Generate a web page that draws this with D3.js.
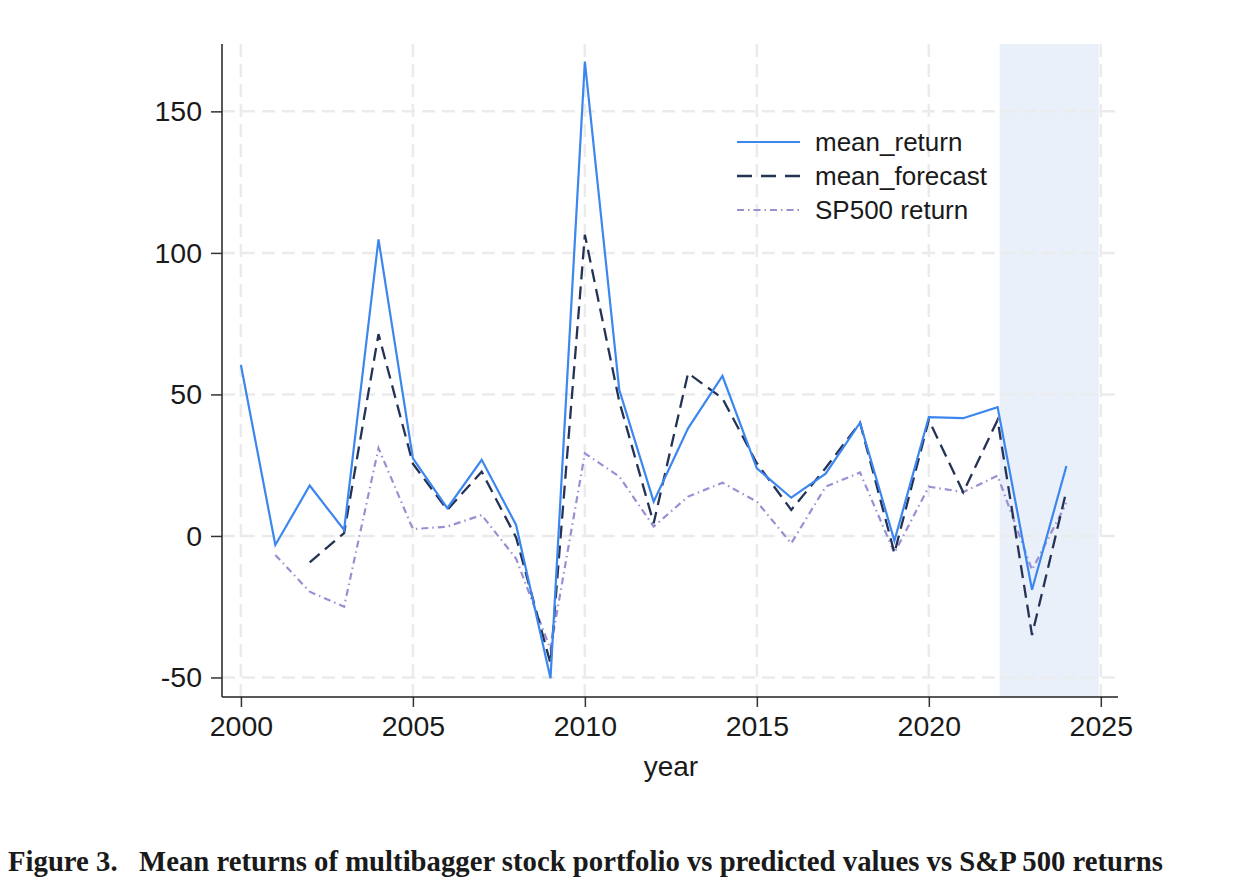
<!DOCTYPE html>
<html>
<head>
<meta charset="utf-8">
<script src="https://cdnjs.cloudflare.com/ajax/libs/d3/7.8.5/d3.min.js"></script>
<style>
  body { margin: 0; background: #fff; }
  text { font-family: "Liberation Sans", Arial, sans-serif; fill: #1a1a1a; }
</style>
</head>
<body>
<div id="chart"></div>
<script>
// values
var years = d3.range(2000, 2025);
var meanReturn = [60.4, -3.2, 17.8, 2.1, 104.8, 27.4, 9.8, 26.9, 3.9, -50.3, 167.6, 51.6, 12.1, 38, 56.5, 23.9, 13.5, 22, 40, -1.7, 42, 41.6, 45.5, -19, 24.7];
var meanForecast = [null, null, -9.3, 1, 71.3, 25.5, 9.2, 22.7, -0.5, -45, 106.4, 47.5, 4.5, 57.5, 48.6, 25.7, 9.2, 24, 40, -6, 41, 15.4, 41, -35, 16];
var sp500 = [null, -6.7, -19.7, -25, 31, 2.4, 3.3, 7.4, -8, -40, 29.2, 21, 3.3, 13.9, 18.8, 12.1, -2.6, 17.4, 22.4, -6, 17.4, 15.5, 21.3, -12, 11.6];
var xTicks = [2000, 2005, 2010, 2015, 2020, 2025];
var yTicks = [-50, 0, 50, 100, 150];
var band = [2022, 2025];
var seriesNames = ["mean_return", "mean_forecast", "SP500 return"];
var caption = "Figure 3.   Mean returns of multibagger stock portfolio vs predicted values vs S&P 500 returns";

var width = 1250;
var height = 892;
var plotL = 222, plotR = 1118, plotT = 44, plotB = 697;

var svg = d3.select("#chart")
    .append("svg")
    .attr("width", width)
    .attr("height", height);

var x = d3.scaleLinear().domain([1999.45, 2025.5]).range([plotL, plotR]);
var y = d3.scaleLinear().domain([-56.9, 173.8]).range([plotB, plotT]);

// shaded forecast window
svg.append("rect")
    .attr("x", x(band[0]) + 2)
    .attr("y", plotT)
    .attr("width", x(band[1]) - x(band[0]) - 4)
    .attr("height", plotB - plotT)
    .attr("fill", "#e9f0f9");

// grid
var grid = svg.append("g")
    .attr("stroke", "#ebebeb")
    .attr("stroke-width", 2.5)
    .attr("stroke-dasharray", "13,7");

grid.selectAll(".gx")
    .data(xTicks)
    .enter()
    .append("line")
    .attr("x1", function(d) { return x(d) })
    .attr("x2", function(d) { return x(d) })
    .attr("y1", plotT)
    .attr("y2", plotB);

grid.selectAll(".gy")
    .data(yTicks)
    .enter()
    .append("line")
    .attr("x1", plotL)
    .attr("x2", plotR)
    .attr("y1", function(d) { return y(d) })
    .attr("y2", function(d) { return y(d) });

// axes (plain hyphen for negatives, like the source)
var fmt = function(d) { return String(d) };
var xAxis = svg.append("g")
    .attr("transform", "translate(0," + plotB + ")")
    .call(d3.axisBottom(x).tickValues(xTicks).tickSize(10).tickPadding(9).tickFormat(fmt));
var yAxis = svg.append("g")
    .attr("transform", "translate(" + plotL + ",0)")
    .call(d3.axisLeft(y).tickValues(yTicks).tickSize(11).tickPadding(9).tickFormat(fmt));

[xAxis, yAxis].forEach(function(a) {
    a.select(".domain").remove();
    a.selectAll(".tick line").attr("stroke", "#333").attr("stroke-width", 1.5);
    a.selectAll(".tick text").attr("font-size", 28.5).attr("fill", "#1a1a1a")
        .style("font-family", "'Liberation Sans', Arial, sans-serif");
});
svg.append("line").attr("x1", plotL).attr("x2", plotR).attr("y1", plotB).attr("y2", plotB)
    .attr("stroke", "#222").attr("stroke-width", 1.5);
svg.append("line").attr("x1", plotL).attr("x2", plotL).attr("y1", plotT).attr("y2", plotB)
    .attr("stroke", "#222").attr("stroke-width", 1.5);

svg.append("text")
    .attr("x", x(2012.5))
    .attr("y", 776)
    .attr("text-anchor", "middle")
    .attr("font-size", 28)
    .text("year");

// series
var series = [
    { name: seriesNames[0], values: meanReturn, color: "#3b87ef", dash: null, w: 2.2 },
    { name: seriesNames[1], values: meanForecast, color: "#243355", dash: "13,7", w: 2.3 },
    { name: seriesNames[2], values: sp500, color: "#9a8fd2", dash: "7,4,1.5,4", w: 2.2 }
];

var line = d3.line()
    .defined(function(d) { return d.v !== null })
    .x(function(d) { return x(d.year) })
    .y(function(d) { return y(d.v) });

series.slice().reverse().forEach(function(s) {
    var pts = years.map(function(yr, i) { return { year: yr, v: s.values[i] } });
    svg.append("path")
        .datum(pts)
        .attr("d", line)
        .attr("fill", "none")
        .attr("stroke", s.color)
        .attr("stroke-width", s.w)
        .attr("stroke-dasharray", s.dash)
        .attr("stroke-linejoin", "miter");
});

// legend
var legend = svg.append("g").attr("transform", "translate(737,142)");
series.forEach(function(s, i) {
    legend.append("line")
        .attr("x1", 0).attr("x2", 63)
        .attr("y1", i * 34).attr("y2", i * 34)
        .attr("stroke", s.color)
        .attr("stroke-width", s.w)
        .attr("stroke-dasharray", i == 1 ? "15,9" : s.dash);
    legend.append("text")
        .attr("x", 78)
        .attr("y", i * 34 + 9)
        .attr("font-size", 26)
        .text(s.name);
});

// caption
svg.append("text")
    .attr("x", 8)
    .attr("y", 871)
    .attr("font-size", 30)
    .attr("font-weight", "bold")
    .attr("textLength", 1155)
    .attr("lengthAdjust", "spacingAndGlyphs")
    .style("font-family", "'Liberation Serif', 'Times New Roman', serif")
    .style("white-space", "pre")
    .attr("fill", "#000")
    .text(caption);
</script>
</body>
</html>
